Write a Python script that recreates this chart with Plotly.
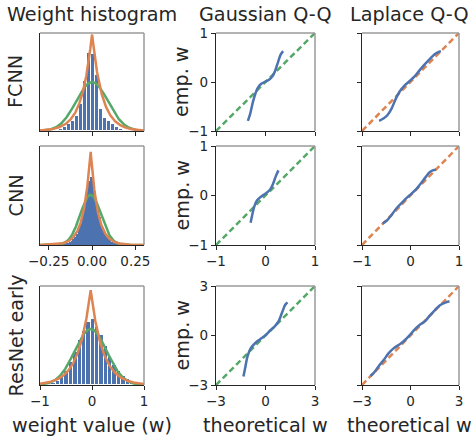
import numpy as np
import plotly.graph_objects as go

# ---------------- data ----------------
col_titles = ["Weight histogram", "Gaussian Q-Q", "Laplace Q-Q"]
row_names = ["FCNN", "CNN", "ResNet early"]
xlabels = ["weight value (w)", "theoretical w", "theoretical w"]

# histograms (bin centres, density)
fcnn_centers = [-0.2225, -0.1995, -0.1765, -0.1535, -0.1305, -0.1075, -0.0845, -0.0615, -0.0385, -0.0155,
                0.0075, 0.0305, 0.0535, 0.0765, 0.0995, 0.1225, 0.1455, 0.1685, 0.1915, 0.2145]
fcnn_density = [0.03, 0.09, 0.18, 0.35, 0.59, 0.89, 1.33, 2.36, 4.43, 6.91,
                6.79, 4.93, 1.98, 1.18, 0.89, 0.59, 0.35, 0.18, 0.09, 0.03]

cnn_centers = [-0.175, -0.165, -0.155, -0.145, -0.135, -0.125, -0.115, -0.105, -0.095, -0.085,
               -0.075, -0.065, -0.055, -0.045, -0.035, -0.025, -0.015, -0.005, 0.005, 0.015,
               0.025, 0.035, 0.045, 0.055, 0.065, 0.075, 0.085, 0.095, 0.105, 0.115,
               0.125, 0.135, 0.145, 0.155, 0.165, 0.175]
cnn_density = [0.04, 0.07, 0.11, 0.18, 0.27, 0.40, 0.58, 0.80, 1.11, 1.51,
               2.04, 2.75, 3.64, 4.79, 6.12, 7.45, 8.51, 9.04, 8.69, 7.31,
               5.98, 4.79, 3.77, 2.88, 2.17, 1.64, 1.20, 0.89, 0.62, 0.44,
               0.31, 0.22, 0.13, 0.09, 0.04, 0.02]

resnet_centers = [-0.992, -0.908, -0.824, -0.740, -0.656, -0.572, -0.488, -0.404, -0.320, -0.236,
                  -0.152, -0.068, 0.016, 0.100, 0.184, 0.268, 0.352, 0.436, 0.520, 0.604,
                  0.688, 0.772, 0.856, 0.940]
resnet_density = [0.008, 0.015, 0.031, 0.054, 0.100, 0.185, 0.324, 0.524, 0.771, 1.041,
                  1.234, 1.450, 1.511, 1.326, 1.141, 0.887, 0.655, 0.463, 0.324, 0.216,
                  0.131, 0.077, 0.039, 0.015]

# fitted distribution parameters (mean, gaussian sigma, laplace scale)
fit_mu = [0.0, -0.008, -0.026]
fit_sigma = [0.092, 0.060, 0.31]
fit_b = [0.058, 0.040, 0.228]

# Q-Q curves (theoretical, empirical)
gqq_fcnn_x = [-0.356, -0.308, -0.254, -0.200, -0.153, -0.085, -0.017, 0.071, 0.139, 0.193, 0.254, 0.308, 0.356]
gqq_fcnn_y = [-0.793, -0.644, -0.407, -0.224, -0.115, -0.034, 0.000, 0.047, 0.115, 0.224, 0.407, 0.563, 0.631]
gqq_cnn_x = [-0.301, -0.268, -0.227, -0.173, -0.105, -0.037, 0.031, 0.098, 0.153, 0.207, 0.261]
gqq_cnn_y = [-0.549, -0.393, -0.224, -0.102, -0.034, 0.014, 0.061, 0.129, 0.237, 0.386, 0.508]
gqq_res_x = [-1.338, -1.236, -1.095, -0.892, -0.628, -0.324, -0.020, 0.284, 0.588, 0.790, 0.993, 1.196, 1.338]
gqq_res_y = [-2.49, -1.99, -1.28, -0.77, -0.466, -0.223, 0.0, 0.304, 0.588, 0.851, 1.358, 1.865, 2.007]

lqq_fcnn_x = [-0.647, -0.559, -0.478, -0.390, -0.302, -0.220, -0.119, -0.017, 0.085, 0.186, 0.288, 0.390, 0.492, 0.573, 0.627]
lqq_fcnn_y = [-0.793, -0.746, -0.678, -0.542, -0.339, -0.190, -0.068, 0.020, 0.115, 0.237, 0.353, 0.461, 0.563, 0.610, 0.631]
lqq_cnn_x = [-0.573, -0.492, -0.390, -0.288, -0.186, -0.085, 0.017, 0.119, 0.220, 0.308, 0.390, 0.458, 0.525]
lqq_cnn_y = [-0.563, -0.509, -0.393, -0.258, -0.156, -0.054, 0.034, 0.129, 0.251, 0.366, 0.468, 0.508, 0.522]
lqq_res_x = [-2.48, -2.27, -1.97, -1.66, -1.36, -1.05, -0.64, -0.34, -0.03, 0.28, 0.58, 0.89, 1.19, 1.50, 1.80, 2.11, 2.41]
lqq_res_y = [-2.45, -2.27, -1.86, -1.49, -1.08, -0.78, -0.51, -0.27, 0.04, 0.39, 0.65, 0.86, 1.20, 1.53, 1.82, 1.98, 2.08]

hist_xlim = [[-0.3, 0.3], [-0.3, 0.3], [-1.0, 1.0]]
hist_ymax = [8.68, 13.12, 2.28]
qq_lim = [[-1, 1], [-1, 1], [-3, 3]]
hist_xticks = [[-0.25, 0.0, 0.25], [-0.25, 0.0, 0.25], [-1, 0, 1]]
hist_xticktext = [["−0.25", "0.00", "0.25"], ["−0.25", "0.00", "0.25"], ["−1", "0", "1"]]
qq_ticks = [[-1, 0, 1], [-1, 0, 1], [-3, 0, 3]]

# ---------------- style ----------------
W, H = 471, 436
BLUE, ORANGE, GREEN = "#4C72B0", "#DD8452", "#55A868"
DARK = "#262626"
GRAY = "#9a9a9a"
FONT = "DejaVu Sans"
TITLE_SIZE = 19.2
TICK_SIZE = 13.5
col_px = [(40, 144), (216, 315), (362, 459)]
row_px = [(33, 131), (146, 245), (286, 385)]

fig = go.Figure()

hist_c = [fcnn_centers, cnn_centers, resnet_centers]
hist_d = [fcnn_density, cnn_density, resnet_density]
bin_w = [0.023, 0.01, 0.084]
bar_line = [1.0, 0.0, 1.0]
gqq = [(gqq_fcnn_x, gqq_fcnn_y), (gqq_cnn_x, gqq_cnn_y), (gqq_res_x, gqq_res_y)]
lqq = [(lqq_fcnn_x, lqq_fcnn_y), (lqq_cnn_x, lqq_cnn_y), (lqq_res_x, lqq_res_y)]

layout = {}
shapes = []
annotations = []

def px2fx(px):
    return px / W

def py2fy(py):
    return 1 - py / H

for r in range(3):
    for c in range(3):
        n = r * 3 + c + 1
        xa = "x" if n == 1 else f"x{n}"
        ya = "y" if n == 1 else f"y{n}"
        xkey = "xaxis" if n == 1 else f"xaxis{n}"
        ykey = "yaxis" if n == 1 else f"yaxis{n}"
        if c == 0:
            fig.add_trace(go.Bar(x=hist_c[r], y=hist_d[r], width=bin_w[r], xaxis=xa, yaxis=ya,
                                 marker=dict(color=BLUE, line=dict(color="white", width=bar_line[r])),
                                 showlegend=False))
            xs = np.linspace(hist_xlim[r][0], hist_xlim[r][1], 600)
            g = np.exp(-0.5 * ((xs - fit_mu[r]) / fit_sigma[r]) ** 2) / (fit_sigma[r] * np.sqrt(2 * np.pi))
            lp = np.exp(-np.abs(xs - fit_mu[r]) / fit_b[r]) / (2 * fit_b[r])
            fig.add_trace(go.Scatter(x=xs, y=g, mode="lines", line=dict(color=GREEN, width=2.5),
                                     xaxis=xa, yaxis=ya, showlegend=False))
            fig.add_trace(go.Scatter(x=xs, y=lp, mode="lines", line=dict(color=ORANGE, width=2.5),
                                     xaxis=xa, yaxis=ya, showlegend=False))
            xr = hist_xlim[r]
            yr = [0, hist_ymax[r]]
            xt, xtt = hist_xticks[r], hist_xticktext[r]
            show_xl = r != 0
            yticks = dict(showticklabels=False, ticks="", tickvals=[])
        else:
            lim = qq_lim[r]
            fig.add_trace(go.Scatter(x=lim, y=lim, mode="lines",
                                     line=dict(color=GREEN if c == 1 else ORANGE, width=2.5, dash="6px,3.5px"),
                                     xaxis=xa, yaxis=ya, showlegend=False))
            qx, qy = (gqq if c == 1 else lqq)[r]
            fig.add_trace(go.Scatter(x=qx, y=qy, mode="lines", line=dict(color=BLUE, width=2.5, shape="spline"),
                                     xaxis=xa, yaxis=ya, showlegend=False))
            xr = lim
            yr = lim
            xt = qq_ticks[r]
            xtt = ["−" + str(-v) if v < 0 else str(v) for v in xt]
            show_xl = r != 0
            yticks = dict(showticklabels=(c == 1), ticks="outside", tickvals=xt, ticktext=xtt,
                          ticklen=4, tickwidth=1.2, tickcolor=DARK)
        x0, x1 = col_px[c]
        y0, y1 = row_px[r]
        layout[xkey] = dict(domain=[px2fx(x0), px2fx(x1)], anchor=ya, range=xr, automargin=False,
                            showgrid=False, zeroline=False, showline=True, linecolor=DARK, linewidth=1.25,
                            ticks="outside", ticklen=4, tickwidth=1.2, tickcolor=DARK,
                            tickvals=xt, ticktext=xtt, showticklabels=show_xl,
                            tickfont=dict(family=FONT, size=TICK_SIZE, color=DARK), fixedrange=True)
        layout[ykey] = dict(domain=[py2fy(y1), py2fy(y0)], anchor=xa, range=yr, automargin=False,
                            showgrid=False, zeroline=False, showline=True, linecolor=DARK, linewidth=1.25,
                            tickfont=dict(family=FONT, size=TICK_SIZE, color=DARK), fixedrange=True, **yticks)
        # top and right spines in gray
        shapes.append(dict(type="line", xref=f"{xa} domain", yref=f"{ya} domain", x0=0, x1=1, y0=1, y1=1,
                           line=dict(color=GRAY, width=1.5), layer="above"))
        shapes.append(dict(type="line", xref=f"{xa} domain", yref=f"{ya} domain", x0=1, x1=1, y0=0, y1=1,
                           line=dict(color=GRAY, width=1.5), layer="above"))

# column titles and x labels
title_cx = [92, 265, 409]
for c in range(3):
    annotations.append(dict(text=col_titles[c], x=px2fx(title_cx[c]), y=py2fy(14), xref="paper", yref="paper",
                            showarrow=False, xanchor="center", yanchor="middle",
                            font=dict(family=FONT, size=TITLE_SIZE, color=DARK)))
    annotations.append(dict(text=xlabels[c], x=px2fx(title_cx[c]), y=py2fy(425), xref="paper", yref="paper",
                            showarrow=False, xanchor="center", yanchor="middle",
                            font=dict(family=FONT, size=TITLE_SIZE, color=DARK)))
# row labels and y labels
for r in range(3):
    cy = (row_px[r][0] + row_px[r][1]) / 2
    annotations.append(dict(text=row_names[r], x=px2fx(16), y=py2fy(cy), xref="paper", yref="paper",
                            showarrow=False, xanchor="center", yanchor="middle", textangle=-90,
                            font=dict(family=FONT, size=TITLE_SIZE, color=DARK)))
    annotations.append(dict(text="emp. w", x=px2fx(182), y=py2fy(cy), xref="paper", yref="paper",
                            showarrow=False, xanchor="center", yanchor="middle", textangle=-90,
                            font=dict(family=FONT, size=TITLE_SIZE, color=DARK)))

fig.update_layout(width=W, height=H, margin=dict(l=0, r=0, t=0, b=0),
                  paper_bgcolor="white", plot_bgcolor="white", bargap=0,
                  shapes=shapes, annotations=annotations, showlegend=False, **layout)
fig.write_html("out.html", config={"displayModeBar": False},
               post_script="document.body.style.margin='0';document.body.style.overflow='hidden';")
